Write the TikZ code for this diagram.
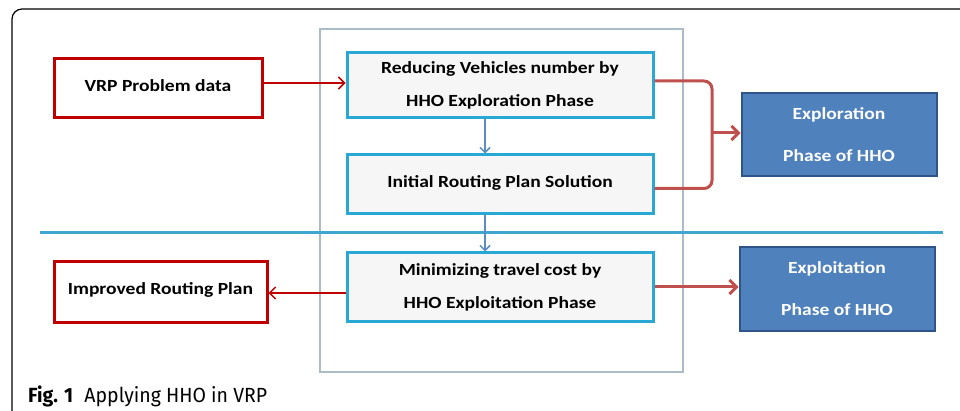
\documentclass[tikz,border=0pt]{standalone}
\usepackage{fontspec}
\setmainfont{Fira Sans}[FakeStretch=0.95]
\newfontfamily\boxfont[FakeStretch=1.15]{Carlito}
\usetikzlibrary{arrows.meta}
\definecolor{frred}{HTML}{C00000}
\definecolor{arred}{HTML}{C0504D}
\definecolor{cyanb}{HTML}{2AA8D4}
\definecolor{grayb}{HTML}{A9BCC8}
\definecolor{bluef}{HTML}{4F81BD}
\definecolor{blued}{HTML}{2F5487}
\definecolor{lineb}{HTML}{3FA6D0}
\definecolor{arblue}{HTML}{5B8DBE}
\definecolor{boxfill}{HTML}{F6F6F6}
\begin{document}
\begin{tikzpicture}[x=1pt,y=-1pt,
  box/.style={rectangle, inner sep=0pt, align=center, font=\boxfont\bfseries\fontsize{17}{33}\selectfont},
  redbox/.style={box, draw=frred, line width=3pt, fill=white},
  cyanbox/.style={box, draw=cyanb, line width=3pt, fill=boxfill},
  bluebox/.style={box, draw=blued, line width=2pt, fill=bluef, text=white, font=\boxfont\bfseries\fontsize{17}{42}\selectfont},
  container/.style={rectangle, draw=grayb, line width=1.5pt, inner sep=0pt},
  thinred/.style={draw=frred, line width=1.5pt, -{Straight Barb[length=6pt,width=12pt,line width=1.5pt]}},
  thickred/.style={draw=arred, line width=3pt, rounded corners=8pt},
  thickredarrow/.style={draw=arred, line width=3pt, -{Straight Barb[length=7pt,width=14pt,line width=3pt]}},
  bluearrow/.style={draw=arblue, line width=1.5pt, -{Straight Barb[length=5pt,width=10pt,line width=1.5pt]}},
  divider/.style={draw=lineb, line width=3pt},
  frame/.style={draw=black, line width=1.2pt, rounded corners=10pt}
  ]
\useasboundingbox (0,0) rectangle (960,411);
\draw[frame] (961,9) -- (12,9) -- (12,412);

\node[container, minimum width=363pt, minimum height=343pt] (cont) at (501.5,200.5) {};
\draw[divider] (40,233) -- (943,233);

\node[redbox, minimum width=208pt, minimum height=59pt] (vrp) at (158,88.5) {\raisebox{5pt}{VRP Problem data}};
\node[cyanbox, minimum width=306pt, minimum height=65pt] (red) at (500,85.5) {Reducing Vehicles number by\\HHO Exploration Phase};
\node[cyanbox, minimum width=306pt, minimum height=59pt] (init) at (500,184.5) {\raisebox{6pt}{Initial Routing Plan Solution}};
\node[cyanbox, minimum width=306pt, minimum height=68pt] (mini) at (500,287) {Minimizing travel cost by\\HHO Exploitation Phase};
\node[redbox, minimum width=213pt, minimum height=60pt] (impr) at (160.5,292) {\raisebox{7pt}{Improved Routing Plan}};
\node[bluebox, minimum width=195pt, minimum height=83pt] (explor) at (839,135) {Exploration\\Phase of HHO};
\node[bluebox, minimum width=195pt, minimum height=83pt] (exploit) at (837,289) {Exploitation\\Phase of HHO};

\coordinate (a1) at ([yshift=5.5pt]vrp.east);
\draw[thinred] (a1) -- (a1 -| red.west);
\draw[bluearrow] ([xshift=-15pt]red.south) -- ([xshift=-15pt]init.north);
\draw[bluearrow] ([xshift=-15pt]init.south) -- ([xshift=-15pt]mini.north);
\coordinate (a2) at ([yshift=-6pt]mini.west);
\draw[thinred] (a2) -- (a2 -| impr.east);

\coordinate (b1) at ([yshift=4.5pt]red.east);
\coordinate (b2) at ([yshift=-4pt]init.east);
\coordinate (bm) at (712,133);
\draw[thickred] (b1) -- (b1 -| bm) -- (b2 -| bm) -- (b2);
\draw[thickredarrow] (bm) -- (bm -| explor.west);
\draw[thickredarrow] (mini.east) -- (mini.east -| exploit.west);

\node[anchor=base west, inner sep=0pt] (cap) at (28,402) {\fontsize{20.5}{24}\selectfont\textbf{Fig. 1}\hspace{0.55em}Applying HHO in VRP};
\end{tikzpicture}
\end{document}
